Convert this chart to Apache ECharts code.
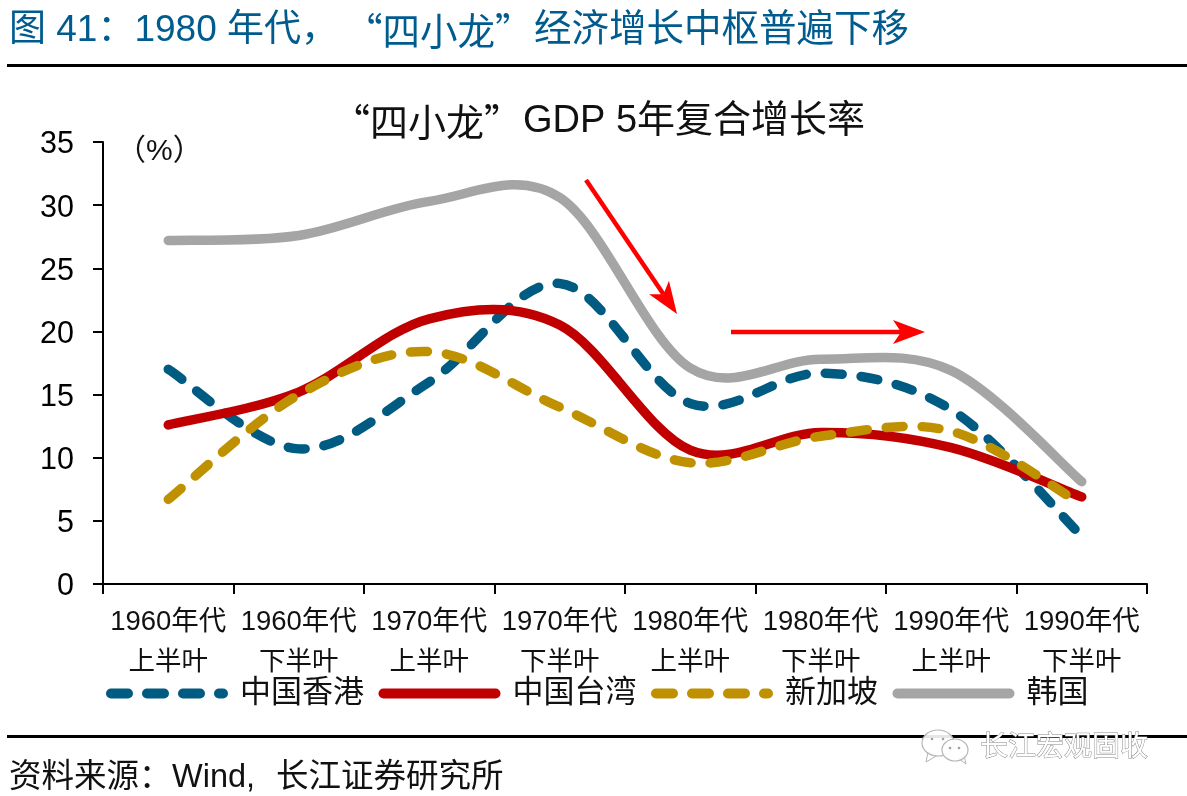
<!DOCTYPE html>
<html><head><meta charset="utf-8">
<style>html,body{margin:0;padding:0;background:#fff}#c{width:1187px;height:796px}</style>
<script src="https://cdn.jsdelivr.net/npm/echarts@6/dist/echarts.min.js"></script>
</head><body><div id="c"></div>
<script>
const decades = ['1960年代','1960年代','1970年代','1970年代','1980年代','1980年代','1990年代','1990年代'];
const halves = ['上半叶','下半叶','上半叶','下半叶','上半叶','下半叶','上半叶','下半叶'];
const hongkong = [17.0,10.7,16.0,23.8,14.3,16.7,13.8,3.8];
const taiwan = [12.6,15.2,21.0,20.5,10.6,12.0,10.8,6.9];
const singapore = [6.7,15.0,18.4,14.0,9.6,11.7,12.1,6.3];
const korea = [27.2,27.6,30.3,30.6,17.1,17.8,16.9,8.1];
const categories = decades.map((d,i)=>'{a|'+d+'}\n{b|'+halves[i]+'}');
const FONT = '"Liberation Sans","Noto Sans CJK SC",sans-serif';
const CJK = '"Noto Sans CJK SC",sans-serif';
const chart = echarts.init(document.getElementById('c'));

function stadium(x0,x1){
  const r=5;
  return 'M'+(x0+r)+' 0H'+(x1-r)+'A5 5 0 0 1 '+(x1-r)+' 10H'+(x0+r)+'A5 5 0 0 1 '+(x0+r)+' 0Z';
}
const ICON_SOLID='path://'+stadium(0,122);
const ICON_DASH='path://'+stadium(0,27)+stadium(36,63)+stadium(72,99)+stadium(108,122);

// Smooth curve through the values, placed by the chart's own axes.
function mk(name,values,color,dash){
  return {name,type:'custom',coordinateSystem:'cartesian2d',
    data:values.map((v,i)=>[i,v]),encode:{x:0,y:1},
    itemStyle:{color},
    renderItem:function(params,api){
      if(params.dataIndex!==0) return null;
      const p=values.map((v,i)=>api.coord([i,v]));
      const n=p.length;
      let d='M'+p[0][0]+' '+p[0][1];
      for(let i=0;i<n-1;i++){
        const a=p[Math.max(i-1,0)],b=p[i],c=p[i+1],e=p[Math.min(i+2,n-1)];
        d+='C'+(b[0]+(c[0]-a[0])/6)+' '+(b[1]+(c[1]-a[1])/6)+' '
              +(c[0]-(e[0]-b[0])/6)+' '+(c[1]-(e[1]-b[1])/6)+' '+c[0]+' '+c[1];
      }
      return {type:'path',shape:{pathData:d},
        style:{fill:null,stroke:color,lineWidth:9.5,lineCap:'round',lineJoin:'round',lineDash:dash?[17,19]:null}};
    }};
}
function txt(x,y,text,size,fill,extra){
  return {type:'text',x,y,z:10,style:Object.assign({text,fontSize:size,fontFamily:FONT,fill,textVerticalAlign:'middle'},extra||{})};
}
function arrow(x1,y1,x2,y2){
  const a=Math.atan2(y2-y1,x2-x1),L=32,W=12,n=8;
  const bx=x2-L*Math.cos(a),by=y2-L*Math.sin(a);
  const nx=x2-(L-n)*Math.cos(a),ny=y2-(L-n)*Math.sin(a);
  const px=-Math.sin(a),py=Math.cos(a);
  return [
    {type:'line',z:9,shape:{x1,y1,x2:nx,y2:ny},style:{stroke:'#ff0000',lineWidth:4.5}},
    {type:'polygon',z:9,shape:{points:[[x2,y2],[bx+px*W,by+py*W],[nx,ny],[bx-px*W,by-py*W]]},style:{fill:'#ff0000'}}
  ];
}
function bubble(cx,cy,rx,ry,tail){
  return [
    {type:'polygon',z:11,shape:{points:tail},style:{fill:'#fff',stroke:'#b5b5b5',lineWidth:1}},
    {type:'ellipse',z:11,shape:{cx,cy,rx,ry},style:{fill:'rgba(255,255,255,0.9)',stroke:'#b5b5b5',lineWidth:1.2}},
  ];
}
function dot(cx,cy){return {type:'circle',z:12,shape:{cx,cy,r:1.3},style:{fill:'#a0a0a0'}};}
const HEAD='#005b8e';
chart.setOption({
  animation:false,
  backgroundColor:'#fff',
  textStyle:{fontFamily:FONT},
  grid:{left:103,right:40,top:142,bottom:212,containLabel:false},
  xAxis:{type:'category',data:categories,boundaryGap:true,
    axisLine:{show:true,lineStyle:{color:'#000',width:2}},
    axisTick:{show:true,alignWithLabel:false,length:10,lineStyle:{color:'#000',width:2}},
    axisLabel:{color:'#111',margin:18,interval:0,fontFamily:FONT,lineHeight:41,
      rich:{a:{fontSize:27.5,lineHeight:41,fontFamily:FONT,color:'#111'},b:{fontSize:26.5,lineHeight:40,fontFamily:FONT,color:'#111'}}}},
  yAxis:{type:'value',min:0,max:35,interval:5,splitLine:{show:false},
    axisLine:{show:true,lineStyle:{color:'#000',width:2}},
    axisTick:{show:true,length:10,lineStyle:{color:'#000',width:2}},
    axisLabel:{color:'#000',fontSize:30.5,margin:29,fontFamily:FONT,verticalAlign:'top',lineHeight:6}},
  legend:{left:106,top:678,padding:0,itemWidth:122,itemHeight:10,itemGap:14.5,
    textStyle:{fontSize:31,color:'#111',padding:[0,0,0,7],fontFamily:FONT},
    data:[{name:'中国香港',icon:ICON_DASH},{name:'中国台湾',icon:ICON_SOLID},{name:'新加坡',icon:ICON_DASH},{name:'韩国',icon:ICON_SOLID}]},
  series:[
    mk('中国香港',hongkong,'#005b82',true),
    mk('中国台湾',taiwan,'#c00000',false),
    mk('新加坡',singapore,'#bf9000',true),
    mk('韩国',korea,'#a5a5a5',false)
  ],
  graphic:[
    txt(9,31,'图 41：1980 年代，',37,HEAD),
    txt(345,31,'“四小龙”',37.5,HEAD,{fontFamily:CJK}),
    txt(534,31,'经济增长中枢普遍下移',37.5,HEAD),
    {type:'rect',z:9,shape:{x:7,y:64,width:1180,height:3},style:{fill:'#000'}},
    txt(332,122,'“四小龙”',38,'#111',{fontFamily:CJK}),
    txt(523,122,'GDP 5年复合增长率',38,'#111'),
    txt(116,152,'（%）',30,'#111'),
    {type:'rect',z:9,shape:{x:7,y:735,width:1180,height:3},style:{fill:'#000'}},
    txt(9,778,'资料来源：',32.5,'#111'),
    txt(172,778,'Wind,',32.5,'#111'),
    txt(276,778,'长江证券研究所',32.5,'#111'),
    ...arrow(586,180,677,314),
    ...arrow(731,332,925,332),
    ...bubble(938,743,16,13,[[928,752],[926,762],[938,755]]),
    dot(932,739),dot(943,739),
    ...bubble(955,750,13,11,[[958,758],[966,764],[964,755]]),
    dot(950,748),dot(959,748),
    txt(980,748,'长江宏观固收',28,'#fff',{stroke:'#8a8a8a',lineWidth:1})
  ]
});
</script></body></html>
